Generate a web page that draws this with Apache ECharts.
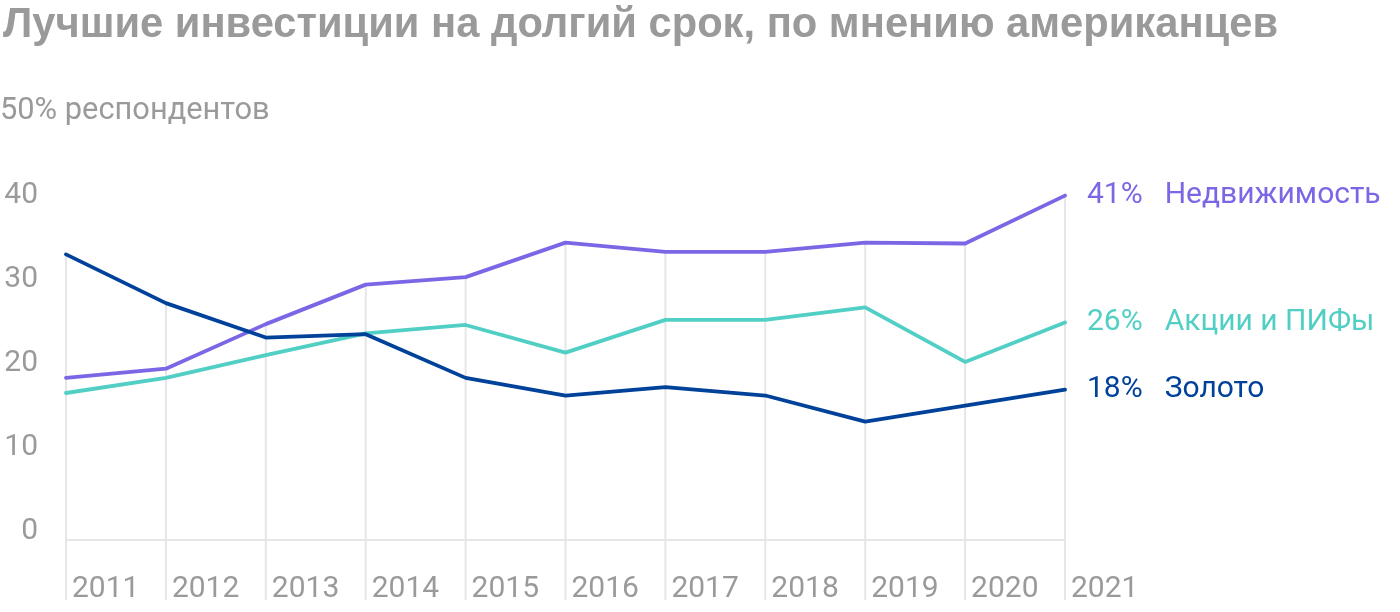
<!DOCTYPE html>
<html>
<head>
<meta charset="utf-8">
<style>
  html, body { margin: 0; padding: 0; background: #fff; }
  #chart { width: 1400px; height: 612px; }
</style>
<script src="https://cdn.jsdelivr.net/npm/echarts@6/dist/echarts.min.js"></script>
</head>
<body>
<div id="chart"></div>
<script>
// ---- data ----
const years = ['2011', '2012', '2013', '2014', '2015', '2016', '2017', '2018', '2019', '2020', '2021'];
const realEstate = [19.3, 20.4, 25.7, 30.4, 31.3, 35.4, 34.3, 34.3, 35.4, 35.3, 41];
const stocks     = [17.5, 19.3, 22.0, 24.6, 25.6, 22.3, 26.2, 26.2, 27.7, 21.2, 25.9];
const gold       = [34.0, 28.2, 24.1, 24.5, 19.3, 17.2, 18.2, 17.2, 14.1, 16.0, 17.9];
const yTicks = [0, 10, 20, 30, 40, 50];
const seriesNames = ['Недвижимость', 'Акции и ПИФы', 'Золото'];
const titleText = 'Лучшие инвестиции на долгий срок, по мнению американцев';
const topTickUnit = '% респондентов';

const colors = ['#7b66e6', '#52cfc5', '#00419a'];
const FONT = 'Roboto';
const GRAY = '#9a9a9a';

const dropTops = years.map((y, i) => [i, Math.max(realEstate[i], stocks[i], gold[i])]);

const chart = echarts.init(document.getElementById('chart'), null, { renderer: 'canvas' });

function lineSeries(name, data, color) {
  return {
    name: name,
    type: 'line',
    data: data,
    symbol: 'none',
    z: 5,
    lineStyle: { color: color, width: 3.8, cap: 'round', join: 'round' },
    endLabel: {
      show: true,
      distance: 22,
      color: color,
      fontFamily: FONT,
      fontSize: 30,
      formatter: p => '{v|' + Math.round(p.value) + '%}{n|' + p.seriesName + '}',
      rich: {
        v: { color: color, fontFamily: FONT, fontSize: 30, padding: [0, 22, 0, 0] },
        n: { color: color, fontFamily: FONT, fontSize: 30 }
      }
    }
  };
}

chart.setOption({
  animation: false,
  backgroundColor: '#ffffff',
  title: {
    text: titleText,
    left: -2,
    top: 0,
    textStyle: { fontFamily: 'Liberation Sans', fontWeight: 'bold', fontSize: 41.7, color: GRAY }
  },
  grid: { left: 66, right: 335, top: 120, bottom: 72, containLabel: false, outerBoundsMode: 'none' },
  xAxis: {
    type: 'category',
    data: years,
    boundaryGap: false,
    axisTick: { show: false },
    axisLine: { show: true, lineStyle: { color: '#e6e6e6', width: 2 } },
    splitLine: { show: false },
    axisLabel: {
      interval: 0,
      align: 'left',
      margin: 34,
      padding: [0, 0, 0, 6],
      color: GRAY,
      fontFamily: FONT,
      fontSize: 30
    }
  },
  yAxis: {
    type: 'value',
    min: yTicks[0],
    max: yTicks[yTicks.length - 1],
    interval: 10,
    axisLine: { show: false },
    axisTick: { show: false },
    splitLine: { show: false },
    axisLabel: {
      margin: 66,
      align: 'left',
      padding: [0, 0, 18, 0],
      color: GRAY,
      fontFamily: FONT,
      fontSize: 30,
      formatter: v => v === yTicks[yTicks.length - 1] ? '{t|' + v + topTickUnit + '}' : '{n|' + v + '}',
      rich: {
        n: { width: 38, align: 'right', color: GRAY, fontFamily: FONT, fontSize: 30 },
        t: { color: GRAY, fontFamily: FONT, fontSize: 30.8 }
      }
    }
  },
  series: [
    {
      type: 'custom',
      z: 1,
      silent: true,
      clip: false,
      data: dropTops,
      renderItem: function (params, api) {
        const top = api.coord([api.value(0), api.value(1)]);
        const base = api.coord([api.value(0), 0]);
        return {
          type: 'line',
          shape: { x1: top[0], y1: top[1], x2: base[0], y2: base[1] + 60 },
          style: { stroke: '#e6e6e6', lineWidth: 2 }
        };
      }
    },
    lineSeries(seriesNames[0], realEstate, colors[0]),
    lineSeries(seriesNames[1], stocks, colors[1]),
    lineSeries(seriesNames[2], gold, colors[2])
  ],
  graphic: [
    { type: 'rect', z: 100, left: 0, top: 600, shape: { width: 1400, height: 12 }, style: { fill: '#ffffff' } }
  ]
});
</script>
</body>
</html>
